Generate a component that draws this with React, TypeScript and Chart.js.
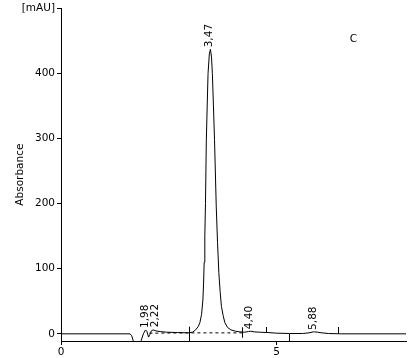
import { useEffect, useRef } from "react";
import { Chart, registerables } from "chart.js";

Chart.register(...registerables);

// Chromatogram trace (time in min, absorbance in mAU)
const traceTimes = [
  0, 1.6, 1.64, 1.68, 1.74, 1.76, 1.84, 1.87, 1.91, 1.96, 1.99, 2.03, 2.06, 2.1, 2.14, 2.2, 2.3, 2.45, 2.7, 2.95,
  3.05, 3.12, 3.18, 3.22, 3.26, 3.29, 3.305, 3.32, 3.335, 3.35, 3.37, 3.39, 3.41, 3.44, 3.465, 3.49, 3.51, 3.535,
  3.56, 3.6, 3.63, 3.66, 3.69, 3.72, 3.76, 3.8, 3.86, 3.94, 4.05, 4.15, 4.25, 4.35, 4.4, 4.48, 4.6, 4.8, 5.0,
  5.3, 5.6, 5.75, 5.85, 5.88, 5.95, 6.05, 6.2, 6.5, 8,
];
const traceValues = [
  0, 0, -3, -12, -12, -14, -14, -8, 0, 6, 4, -5, -1, 5, 6, 4.5, 3.5, 2.5, 2, 1.5,
  2.5, 6, 11, 17, 30, 52, 75, 110, 150, 200, 298, 350, 400, 430, 437, 425, 400, 350,
  298, 195, 140, 94, 65, 42, 28, 17, 10, 6, 4, 3, 2.5, 3.5, 4, 3, 2.5, 2, 1,
  0.5, 0.5, 1.5, 3, 3, 2.5, 1.5, 0.5, 0, 0,
];

// Integration baseline (dashed)
const baselineTimes = [2.05, 2.96, 4.2];
const baselineValues = [1, 1.5, 1.5];

// Peak annotations
const peakTimes = [1.98, 2.22, 3.47, 4.4, 5.88];
const peakHeights = [6, 7, 437, 4, 3];
const peakLabels = ["1,98", "2,22", "3,47", "4,40", "5,88"];

// Integration event marks
const markTimes = [2.96, 4.2, 4.75, 5.28, 6.43];
const markLow = [-11, -6, 1.5, -11, 0];
const markHigh = [11, 10, 10.5, 0, 10.5];

// Axes
const yTicks = [0, 100, 200, 300, 400, 500];
const yTickLabels = ["0", "100", "200", "300", "400", "[mAU]"];
const xTicks = [0, 5];
const xTickLabels = ["0", "5"];
const yTitle = "Absorbance";

// Panel letter
const panelLetter = "C";
const panelTime = 6.78;
const panelValue = 452;

const FONT = "DejaVu Sans";

const annotationPlugin = {
  id: "chromAnnotations",
  afterDatasetsDraw(chart: any) {
    const { ctx, scales } = chart;
    const xs = scales.x;
    const ys = scales.y;
    ctx.save();
    ctx.strokeStyle = "#000";
    ctx.lineWidth = 1;
    // integration marks
    markTimes.forEach((t, i) => {
      const px = Math.round(xs.getPixelForValue(t)) + 0.5;
      ctx.beginPath();
      ctx.moveTo(px, ys.getPixelForValue(markLow[i]));
      ctx.lineTo(px, ys.getPixelForValue(markHigh[i]));
      ctx.stroke();
    });
    // peak labels
    ctx.fillStyle = "#000";
    ctx.font = `10.5px "${FONT}"`;
    ctx.textAlign = "left";
    ctx.textBaseline = "middle";
    peakTimes.forEach((t, i) => {
      const px = xs.getPixelForValue(t) - 1;
      const py = ys.getPixelForValue(peakHeights[i]) - 2;
      ctx.save();
      ctx.translate(px, py);
      ctx.rotate(-Math.PI / 2);
      ctx.fillText(peakLabels[i], 0, 0);
      ctx.restore();
    });
    // panel letter
    ctx.textAlign = "center";
    ctx.fillText(panelLetter, xs.getPixelForValue(panelTime), ys.getPixelForValue(panelValue));
    ctx.restore();
  },
};

export default function App() {
  const ref = useRef<HTMLCanvasElement | null>(null);

  useEffect(() => {
    if (!ref.current) return;
    Chart.defaults.font.family = FONT;
    Chart.defaults.font.size = 10.5;
    Chart.defaults.color = "#000";
    const chart = new Chart(ref.current, {
      type: "line",
      data: {
        datasets: [
          {
            data: traceTimes.map((t, i) => ({ x: t, y: traceValues[i] })),
            borderColor: "#000",
            borderWidth: 1,
            pointRadius: 0,
            tension: 0,
            fill: false,
          },
          {
            data: baselineTimes.map((t, i) => ({ x: t, y: baselineValues[i] })),
            borderColor: "#000",
            borderWidth: 1,
            borderDash: [3, 3],
            pointRadius: 0,
            tension: 0,
            fill: false,
          },
        ],
      },
      options: {
        responsive: false,
        animation: false,
        events: [],
        layout: { padding: { top: 7, right: 2, left: 0, bottom: 0 } },
        plugins: { legend: { display: false }, tooltip: { enabled: false } },
        scales: {
          x: {
            type: "linear",
            min: 0,
            max: 8,
            border: { color: "#000", width: 1 },
            grid: { drawOnChartArea: false, drawTicks: true, tickLength: 4, color: "#000" },
            ticks: {
              padding: 1,
              maxRotation: 0,
              callback: (v: any) => {
                const i = xTicks.indexOf(Number(v));
                return i >= 0 ? xTickLabels[i] : "";
              },
            },
            afterBuildTicks: (s: any) => {
              s.ticks = xTicks.map((v) => ({ value: v }));
            },
            afterFit: (s: any) => {
              s.height = 17;
            },
          },
          y: {
            type: "linear",
            min: -11,
            max: 500,
            border: { color: "#000", width: 1 },
            grid: { drawOnChartArea: false, drawTicks: true, tickLength: 4, color: "#000" },
            title: { display: true, text: yTitle, padding: { top: 14, bottom: 4 } },
            ticks: {
              padding: 2,
              callback: (v: any) => {
                const i = yTicks.indexOf(Number(v));
                return i >= 0 ? yTickLabels[i] : "";
              },
            },
            afterBuildTicks: (s: any) => {
              s.ticks = yTicks.map((v) => ({ value: v }));
            },
            afterFit: (s: any) => {
              s.width = 61;
            },
          },
        },
      },
      plugins: [annotationPlugin],
    } as any);
    return () => chart.destroy();
  }, []);

  return (
    <div style={{ position: "absolute", left: 0, top: 0, width: 408, height: 358, background: "#fff" }}>
      <canvas ref={ref} width={408} height={358} style={{ display: "block" }} />
    </div>
  );
}
